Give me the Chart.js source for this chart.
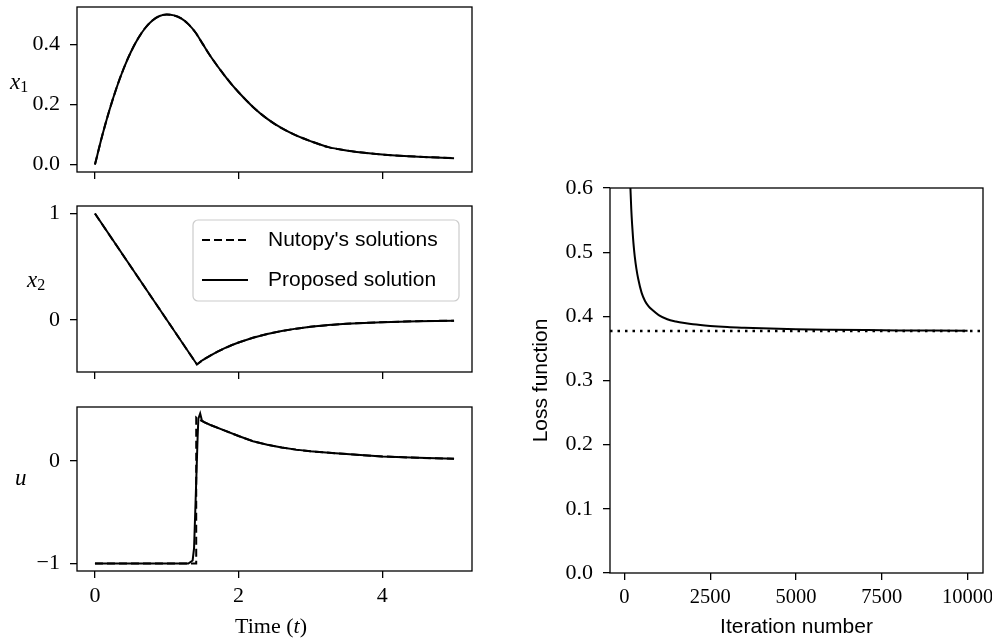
<!DOCTYPE html>
<html>
<head>
<meta charset="utf-8">
<script src="https://cdn.jsdelivr.net/npm/chart.js@4.4.1/dist/chart.umd.min.js"></script>
<style>
  html, body { margin: 0; padding: 0; background: #fff; }
  body { width: 992px; height: 642px; position: relative; overflow: hidden; }
  canvas { position: absolute; }
</style>
</head>
<body>
<canvas id="chartX1" width="480" height="190" style="left:0;top:0"></canvas>
<canvas id="chartX2" width="480" height="195" style="left:0;top:195px"></canvas>
<canvas id="chartU" width="480" height="247" style="left:0;top:395px"></canvas>
<canvas id="chartLoss" width="492" height="482" style="left:500px;top:160px"></canvas>
<script>
// ---- data ----
const timeX1 = [0, 0.1, 0.2, 0.3, 0.4, 0.5, 0.6, 0.7, 0.8, 0.9, 1.0, 1.1, 1.2, 1.3, 1.4, 1.5, 1.6, 1.7, 1.8, 1.9, 2.0, 2.2, 2.4, 2.6, 2.8, 3.0, 3.25, 3.5, 3.75, 4.0, 4.5, 5.0];
const x1Values = [0, 0.095, 0.18, 0.255, 0.32, 0.375, 0.42, 0.455, 0.48, 0.495, 0.5, 0.497, 0.487, 0.468, 0.44, 0.402, 0.364, 0.33, 0.298, 0.268, 0.241, 0.192, 0.152, 0.121, 0.097, 0.078, 0.058, 0.047, 0.039, 0.033, 0.026, 0.021];

const timeX2 = [0, 1.42, 1.5, 1.6, 1.7, 1.8, 1.9, 2.0, 2.2, 2.4, 2.6, 2.8, 3.0, 3.25, 3.5, 3.75, 4.0, 4.5, 5.0];
const x2Values = [1, -0.416, -0.375, -0.335, -0.298, -0.266, -0.236, -0.21, -0.165, -0.13, -0.102, -0.08, -0.063, -0.047, -0.035, -0.026, -0.019, -0.01, -0.005];

const timeU = [0, 1.3, 1.36, 1.38, 1.4, 1.42, 1.43, 1.44, 1.465, 1.49, 1.52, 1.6, 1.8, 2.0, 2.2, 2.4, 2.6, 2.8, 3.0, 3.3, 3.6, 4.0, 4.5, 5.0];
const uProposed = [-1, -1, -0.97, -0.85, -0.42, 0.02, 0.24, 0.41, 0.46, 0.39, 0.375, 0.35, 0.295, 0.24, 0.19, 0.155, 0.128, 0.108, 0.092, 0.075, 0.06, 0.042, 0.028, 0.02];
const timeUNutopy = [0, 1.41, 1.41, 1.45, 1.52, 1.6, 1.8, 2.0, 2.2, 2.4, 2.6, 2.8, 3.0, 3.3, 3.6, 4.0, 4.5, 5.0];
const uNutopy = [-1, -1, 0.42, 0.4, 0.375, 0.35, 0.295, 0.24, 0.19, 0.155, 0.128, 0.108, 0.092, 0.075, 0.06, 0.042, 0.028, 0.02];

const lossIter = [150, 175, 200, 225, 250, 275, 300, 350, 400, 500, 600, 700, 800, 1000, 1250, 1500, 1750, 2000, 2500, 3000, 3500, 4000, 5000, 6000, 7000, 8000, 9000, 10000];
const lossValues = [0.647, 0.6, 0.567, 0.543, 0.523, 0.507, 0.494, 0.474, 0.459, 0.437, 0.424, 0.416, 0.4105, 0.402, 0.3955, 0.392, 0.3895, 0.3875, 0.385, 0.3833, 0.3822, 0.3813, 0.38, 0.3792, 0.3786, 0.3781, 0.3778, 0.3775];
const lossOptimum = 0.377;

const timeTicks = [0, 2, 4];
const x1Ticks = [0, 0.2, 0.4];
const x2Ticks = [0, 1];
const uTicks = [-1, 0];
const lossTicks = [0, 0.1, 0.2, 0.3, 0.4, 0.5, 0.6];
const iterTicks = [0, 2500, 5000, 7500, 10000];

const timeRange = [-0.25, 5.25];
const iterRange = [-420, 10450];

// ---- styling helpers ----
const SERIF = '"Liberation Serif", "DejaVu Serif", serif';
const SANS = '"Liberation Sans", "DejaVu Sans", sans-serif';
const MATH = 'italic 23px ' + SERIF;
const SUB = '16px ' + SERIF;

Chart.defaults.color = '#000';
Chart.defaults.animation = false;

const pts = (xs, ys) => xs.map((x, i) => ({ x: x, y: ys[i] }));
const minus = (v) => (v < 0 ? '\u2212' + Math.abs(v) : String(v));

// box round the plot area
const frameBox = {
  id: 'frameBox',
  afterDatasetsDraw(chart) {
    const { ctx, chartArea: a } = chart;
    ctx.save();
    ctx.strokeStyle = '#000';
    ctx.lineWidth = 1.3;
    ctx.strokeRect(a.left, a.top, a.right - a.left, a.bottom - a.top);
    ctx.restore();
  }
};

// labels made of several font runs (x_1, Time (t) ...)
const richLabels = {
  id: 'richLabels',
  afterDraw(chart, args, opts) {
    const ctx = chart.ctx;
    (opts.items || []).forEach((item) => {
      ctx.save();
      ctx.fillStyle = '#000';
      ctx.textBaseline = 'alphabetic';
      let total = 0;
      item.parts.forEach((p) => {
        ctx.font = p.font;
        p.w = ctx.measureText(p.text).width;
        total += p.w;
      });
      let cx = item.align === 'center' ? item.x - total / 2 : item.x;
      item.parts.forEach((p) => {
        ctx.font = p.font;
        ctx.fillText(p.text, cx, item.y + (p.dy || 0));
        cx += p.w;
      });
      ctx.restore();
    });
  }
};

// matplotlib-like legend box
const boxLegend = {
  id: 'boxLegend',
  afterDraw(chart, args, opts) {
    if (!opts.order) return;
    const ctx = chart.ctx;
    ctx.save();
    ctx.beginPath();
    ctx.roundRect(opts.x, opts.y, opts.w, opts.h, 5);
    ctx.fillStyle = 'rgba(255,255,255,0.8)';
    ctx.fill();
    ctx.strokeStyle = '#cccccc';
    ctx.lineWidth = 1.2;
    ctx.stroke();
    opts.order.forEach((idx, i) => {
      const ds = chart.data.datasets[idx];
      const yy = opts.y + opts.firstRow + i * opts.rowGap;
      ctx.setLineDash(ds.borderDash || []);
      ctx.strokeStyle = ds.borderColor;
      ctx.lineWidth = ds.borderWidth;
      ctx.beginPath();
      ctx.moveTo(opts.x + 9, yy);
      ctx.lineTo(opts.x + 55, yy);
      ctx.stroke();
      ctx.setLineDash([]);
      ctx.fillStyle = '#000';
      ctx.font = '21px ' + SANS;
      ctx.textBaseline = 'middle';
      ctx.fillText(ds.label, opts.x + 75, yy);
    });
    ctx.restore();
  }
};

Chart.register(frameBox, richLabels, boxLegend);

// fixed axis sizes, no extra padding for labels that overhang the plot
function fixSize(s, key, val) {
  s[key] = val;
  s.paddingTop = 0;
  s.paddingBottom = 0;
  s.paddingLeft = 0;
  s.paddingRight = 0;
}

function xAxis(range, ticks, showLabels, height, fontSize) {
  return {
    type: 'linear',
    min: range[0],
    max: range[1],
    afterBuildTicks: (s) => { s.ticks = ticks.map((v) => ({ value: v })); },
    afterFit: (s) => fixSize(s, 'height', height),
    border: { display: false },
    grid: { drawOnChartArea: false, drawTicks: true, tickLength: 7, color: '#000', lineWidth: 1.3 },
    ticks: { display: showLabels, maxRotation: 0, padding: 5, font: { family: SERIF, size: fontSize || 22, lineHeight: 1.2 }, callback: (v) => minus(v) }
  };
}

function yAxis(range, ticks, width, fmt) {
  return {
    min: range[0],
    max: range[1],
    afterBuildTicks: (s) => { s.ticks = ticks.map((v) => ({ value: v })); },
    afterFit: (s) => fixSize(s, 'width', width),
    border: { display: false },
    grid: { drawOnChartArea: false, drawTicks: true, tickLength: 7, color: '#000', lineWidth: 1.3 },
    ticks: { padding: 10, font: { family: SERIF, size: 22 }, callback: fmt }
  };
}

function solid(label, data, mode) {
  return { label: label, data: data, borderColor: '#000', borderWidth: 2, pointRadius: 0, fill: false,
    tension: 0, cubicInterpolationMode: mode || 'default' };
}
function dashed(label, data, mode) {
  const d = solid(label, data, mode);
  d.borderDash = [8, 4];
  return d;
}

const baseOpts = {
  responsive: false,
  animation: false,
  events: [],
  plugins: { legend: { display: false }, tooltip: { enabled: false } }
};

function layoutPad(top, right) {
  return { autoPadding: false, padding: { top: top, right: right, left: 0, bottom: 0 } };
}

// ---- x1 ----
new Chart(document.getElementById('chartX1'), {
  type: 'line',
  data: {
    datasets: [
      solid('Proposed solution', pts(timeX1, x1Values), 'monotone'),
      dashed("Nutopy's solutions", pts(timeX1, x1Values), 'monotone')
    ]
  },
  options: {
    ...baseOpts,
    layout: layoutPad(7, 8),
    scales: {
      x: xAxis(timeRange, timeTicks, false, 18),
      y: yAxis([-0.025, 0.525], x1Ticks, 77, (v) => v.toFixed(1))
    },
    plugins: {
      ...baseOpts.plugins,
      richLabels: { items: [{ x: 10, y: 89, parts: [{ text: 'x', font: MATH }, { text: '1', font: SUB, dy: 3 }] }] }
    }
  }
});

// ---- x2 ----
new Chart(document.getElementById('chartX2'), {
  type: 'line',
  data: {
    datasets: [
      solid('Proposed solution', pts(timeX2, x2Values)),
      dashed("Nutopy's solutions", pts(timeX2, x2Values))
    ]
  },
  options: {
    ...baseOpts,
    layout: layoutPad(11, 8),
    scales: {
      x: xAxis(timeRange, timeTicks, false, 18),
      y: yAxis([-0.487, 1.071], x2Ticks, 77, (v) => minus(v))
    },
    plugins: {
      ...baseOpts.plugins,
      richLabels: { items: [{ x: 27, y: 92, parts: [{ text: 'x', font: MATH }, { text: '2', font: SUB, dy: 3 }] }] },
      boxLegend: { order: [1, 0], x: 193, y: 25, w: 266, h: 81, firstRow: 20, rowGap: 40 }
    }
  }
});

// ---- u ----
new Chart(document.getElementById('chartU'), {
  type: 'line',
  data: {
    datasets: [
      solid('Proposed solution', pts(timeU, uProposed)),
      dashed("Nutopy's solutions", pts(timeUNutopy, uNutopy))
    ]
  },
  options: {
    ...baseOpts,
    layout: layoutPad(12, 8),
    scales: {
      x: xAxis(timeRange, timeTicks, true, 71),
      y: yAxis([-1.0725, 0.5225], uTicks, 77, (v) => minus(v))
    },
    plugins: {
      ...baseOpts.plugins,
      richLabels: { items: [
        { x: 15, y: 90, parts: [{ text: 'u', font: MATH }] },
        { x: 271, y: 238, align: 'center', parts: [
          { text: 'Time (', font: '22px ' + SERIF },
          { text: 't', font: 'italic 22px ' + SERIF },
          { text: ')', font: '22px ' + SERIF }
        ] }
      ] }
    }
  }
});

// ---- loss ----
new Chart(document.getElementById('chartLoss'), {
  type: 'line',
  data: {
    datasets: [
      solid('Loss', pts(lossIter, lossValues), 'monotone'),
      Object.assign(solid('Optimum', pts(iterRange, [lossOptimum, lossOptimum])), { borderDash: [2.5, 5], borderWidth: 2.5 })
    ]
  },
  options: {
    ...baseOpts,
    layout: layoutPad(28, 9),
    scales: {
      x: Object.assign(xAxis(iterRange, iterTicks, true, 69, 20.5), {
        title: { display: true, text: 'Iteration number', padding: { top: 0, bottom: 2 }, font: { family: SANS, size: 21, lineHeight: 1.2 } }
      }),
      y: Object.assign(yAxis([0, 0.6], lossTicks, 110, (v) => v.toFixed(1)), {
        title: { display: true, text: 'Loss function', padding: { top: 29, bottom: 0 }, font: { family: SANS, size: 21, lineHeight: 1.2 } }
      })
    }
  }
});
</script>
</body>
</html>
